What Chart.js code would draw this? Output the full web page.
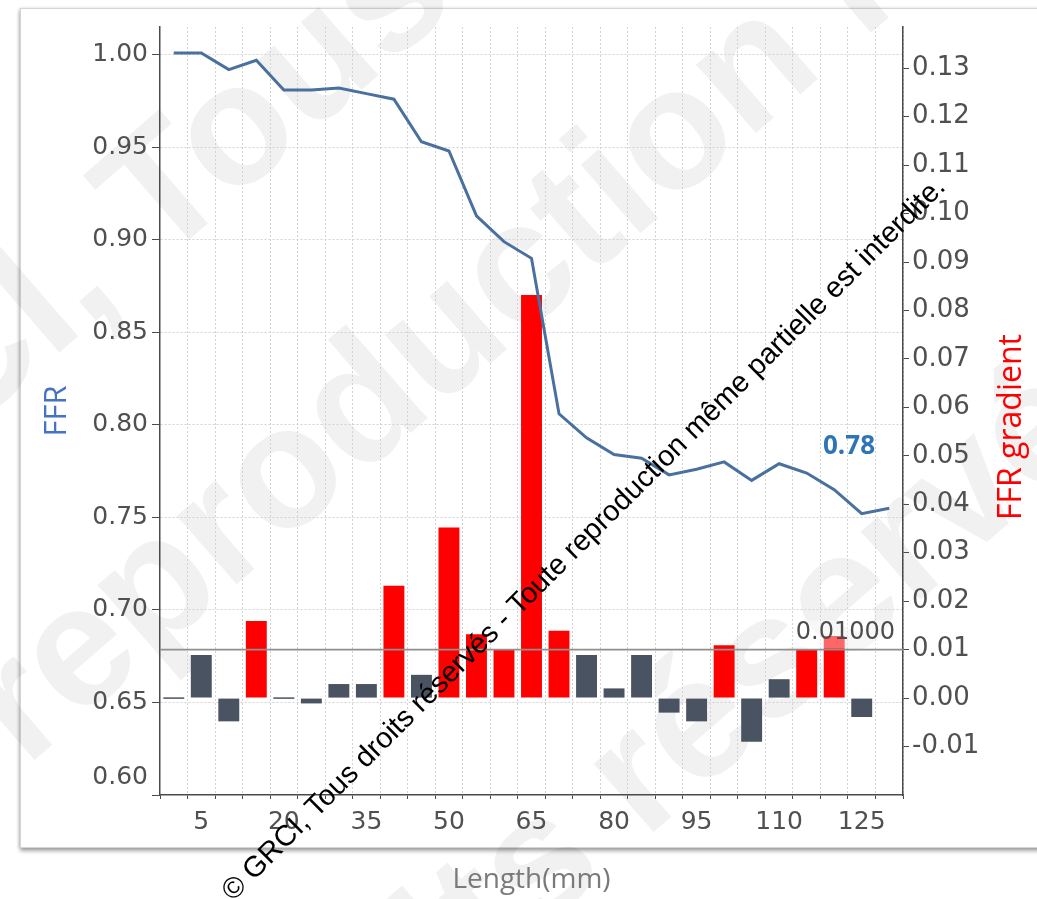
<!DOCTYPE html>
<html>
<head>
<meta charset="utf-8">
<title>FFR / FFR gradient</title>
<script src="https://cdn.jsdelivr.net/npm/chart.js@4.4.0/dist/chart.umd.min.js"></script>
<style>
  html, body { margin: 0; padding: 0; background: #ffffff; }
  #wrap { position: relative; width: 1037px; height: 899px; overflow: hidden; }
  #frame {
    position: absolute; left: 20px; top: 8px; width: 1060px; height: 838px;
    border: 1px solid #d4d4d4; background: #ffffff;
    box-shadow: 0 3px 4px rgba(0,0,0,0.35), -1px 0 3px rgba(0,0,0,0.12);
  }
  #chart { position: absolute; left: 0; top: 0; }
</style>
</head>
<body>
<div id="wrap">
  <div id="frame"></div>
  <canvas id="chart" width="1037" height="899"></canvas>
</div>
<script>
// Position along the vessel (mm)
const lengthsMm = ['0','5','10','15','20','25','30','35','40','45','50','55','60','65',
                   '70','75','80','85','90','95','100','105','110','115','120','125','130'];

// FFR along the vessel (left axis)
const ffrValues = [1.001, 1.001, 0.992, 0.997, 0.981, 0.981, 0.982, 0.979, 0.976, 0.953,
                   0.948, 0.913, 0.899, 0.890, 0.806, 0.793, 0.784, 0.782, 0.773, 0.776,
                   0.780, 0.770, 0.779, 0.774, 0.765, 0.752, 0.755];

// FFR drop per 5 mm segment (right axis)
const gradientValues = [0.0000, 0.0089, -0.0048, 0.0159, 0.0000, -0.0011, 0.0029, 0.0029, 0.0232, 0.0048,
                        0.0352, 0.0132, 0.0100, 0.0832, 0.0139, 0.0089, 0.0020, 0.0089, -0.0030, -0.0048,
                        0.0109, -0.0090, 0.0039, 0.0100, 0.0128, -0.0039, null];

// Tick labels
const xTickLabels = ['5','20','35','50','65','80','95','110','125'];
const ffrTicks = [0.60, 0.65, 0.70, 0.75, 0.80, 0.85, 0.90, 0.95, 1.00];
const gradientTicks = [-0.01, 0.00, 0.01, 0.02, 0.03, 0.04, 0.05, 0.06, 0.07, 0.08, 0.09, 0.10, 0.11, 0.12, 0.13];

// Gradient threshold and distal FFR annotation
const gradientThreshold = 0.01;
const ffrAnnotation = '0.78';

const copyrightText = '© GRCI, Tous droits réservés - Toute reproduction même partielle est interdite.';

function textAlong(ctx, text, anchor, x, y, angleDeg) {
  const prefix = text.slice(0, text.indexOf(anchor));
  const w = ctx.measureText(prefix).width;
  ctx.save();
  ctx.translate(x, y);
  ctx.rotate(angleDeg * Math.PI / 180);
  ctx.textAlign = 'left';
  ctx.textBaseline = 'alphabetic';
  ctx.fillText(text, -w, 0);
  ctx.restore();
}

// Copyright notices: large pale background text and a small dark diagonal line
const copyrightPlugin = {
  id: 'copyright',
  beforeDraw(chart) {
    const ctx = chart.ctx;
    ctx.save();
    ctx.font = 'bold 172px "Liberation Sans", Arial, sans-serif';
    ctx.fillStyle = 'rgba(0,0,0,0.055)';
    textAlong(ctx, copyrightText, 'Tous', 159, 266, -41);
    textAlong(ctx, copyrightText, 'eproduction', 76, 724, -41);
    textAlong(ctx, copyrightText, 'éservés', 695, 796, -41);
    ctx.restore();
  },
  afterDraw(chart) {
    const ctx = chart.ctx;
    ctx.save();
    ctx.font = '100px "Liberation Sans", Arial, sans-serif';
    const size = 100 * 1010 / ctx.measureText(copyrightText).width;
    ctx.font = size.toFixed(2) + 'px "Liberation Sans", Arial, sans-serif';
    ctx.fillStyle = '#000000';
    textAlong(ctx, copyrightText, copyrightText, 233, 902, -45);
    ctx.restore();
  }
};

// Threshold line on the gradient axis, FFR annotation and the gradient axis title
const annotationPlugin = {
  id: 'annotations',
  afterDatasetsDraw(chart) {
    const { ctx, chartArea: { left, right }, scales: { y, y1 } } = chart;
    const yLine = y1.getPixelForValue(gradientThreshold);
    const label = gradientThreshold.toFixed(5);
    ctx.save();
    ctx.font = '24px "DejaVu Sans", sans-serif';
    const w = ctx.measureText(label).width;
    const tx = right - 8;
    ctx.fillStyle = 'rgba(255,255,255,0.4)';
    ctx.fillRect(tx - w - 2, yLine - 29, w + 4, 28);
    ctx.strokeStyle = '#8f8f8f';
    ctx.lineWidth = 1.6;
    ctx.beginPath();
    ctx.moveTo(left, yLine);
    ctx.lineTo(right, yLine);
    ctx.stroke();
    ctx.fillStyle = '#4d4d4d';
    ctx.textAlign = 'right';
    ctx.textBaseline = 'alphabetic';
    ctx.fillText(label, tx, yLine - 11);

    ctx.font = 'bold 26px "Open Sans", sans-serif';
    ctx.fillStyle = '#2e75b6';
    ctx.textAlign = 'center';
    ctx.textBaseline = 'middle';
    ctx.fillText(ffrAnnotation, right - 54, y.getPixelForValue(parseFloat(ffrAnnotation)) - 15);
    ctx.restore();
  },
  afterDraw(chart) {
    // right axis title, read bottom to top
    const { ctx, chartArea: { top, bottom }, scales: { y1 } } = chart;
    ctx.save();
    ctx.translate(y1.right - 25, (top + bottom) / 2 + 16);
    ctx.rotate(-Math.PI / 2);
    ctx.font = '32px "Open Sans", sans-serif';
    ctx.fillStyle = '#ff0000';
    ctx.textAlign = 'center';
    ctx.textBaseline = 'middle';
    ctx.fillText('FFR gradient', 0, 0);
    ctx.restore();
  }
};

const gridColor = '#d2d2d2';
const axisColor = '#4a4a4a';
const tickText = '#505050';

new Chart(document.getElementById('chart'), {
  type: 'bar',
  data: {
    labels: lengthsMm,
    datasets: [
      {
        type: 'line',
        label: 'FFR',
        data: ffrValues,
        yAxisID: 'y',
        borderColor: '#49709f',
        borderWidth: 3,
        pointRadius: 0,
        tension: 0,
        fill: false,
        order: 0
      },
      {
        type: 'bar',
        label: 'FFR gradient',
        data: gradientValues,
        yAxisID: 'y1',
        backgroundColor: c => (c.raw !== null && c.raw >= gradientThreshold - 1e-9) ? '#ff0000' : '#4a5361',
        borderWidth: 0,
        barPercentage: 0.76,
        categoryPercentage: 1,
        minBarLength: 1.5,
        order: 1
      }
    ]
  },
  options: {
    responsive: false,
    animation: false,
    devicePixelRatio: 1,
    layout: { padding: { top: 27, left: 0, right: 0, bottom: 0 } },
    plugins: { legend: { display: false }, tooltip: { enabled: false } },
    scales: {
      x: {
        offset: true,
        grid: {
          offset: true,
          color: c => (c.index === 0 || c.index === lengthsMm.length) ? 'rgba(0,0,0,0)' : gridColor,
          lineWidth: 1,
          drawTicks: true,
          tickLength: 4,
          tickColor: axisColor,
          tickBorderDash: []
        },
        border: { display: true, color: axisColor, width: 1.5, dash: [2, 2] },
        ticks: {
          autoSkip: false,
          maxRotation: 0,
          padding: 8,
          color: tickText,
          font: { family: 'DejaVu Sans', size: 25 },
          callback: function (v) {
            const l = this.getLabelForValue(v);
            return xTickLabels.includes(l) ? l : '';
          }
        },
        title: {
          display: true,
          text: 'Length(mm)',
          color: '#7a7a7a',
          font: { family: 'Open Sans', size: 28 },
          padding: { top: 0, bottom: 2 }
        },
        afterFit: s => { s.height = 104; }
      },
      y: {
        position: 'left',
        min: 0.60,
        max: 1.015,
        afterBuildTicks: s => { s.ticks = ffrTicks.map(v => ({ value: v })); },
        grid: {
          color: c => (c.tick && Math.abs(c.tick.value - ffrTicks[0]) < 1e-9) ? 'rgba(0,0,0,0)' : gridColor,
          drawTicks: true,
          tickLength: 8,
          tickColor: axisColor,
          tickBorderDash: []
        },
        border: { display: true, color: axisColor, width: 1.5, dash: [2, 2] },
        ticks: {
          padding: 4,
          color: tickText,
          font: { family: 'DejaVu Sans', size: 25, lineHeight: 1.44 },
          callback: v => (Math.abs(v - ffrTicks[0]) < 1e-9 ? [v.toFixed(2), ''] : v.toFixed(2))
        },
        title: {
          display: true,
          text: 'FFR',
          color: '#4472c4',
          font: { family: 'Open Sans', size: 31 },
          padding: { top: 39, bottom: 0 }
        },
        afterFit: s => { s.width = 160; }
      },
      y1: {
        position: 'right',
        min: -0.02,
        max: 0.1385,
        afterBuildTicks: s => { s.ticks = gradientTicks.map(v => ({ value: v })); },
        grid: {
          drawOnChartArea: false,
          drawTicks: true,
          tickLength: 6,
          tickColor: axisColor
        },
        border: { display: true, color: axisColor, width: 1.5 },
        ticks: {
          padding: 3,
          color: tickText,
          font: { family: 'DejaVu Sans', size: 26 },
          callback: v => v.toFixed(2)
        },
        title: { display: false },
        afterFit: s => { s.width = 134; }
      }
    }
  },
  plugins: [copyrightPlugin, annotationPlugin]
});
</script>
</body>
</html>
